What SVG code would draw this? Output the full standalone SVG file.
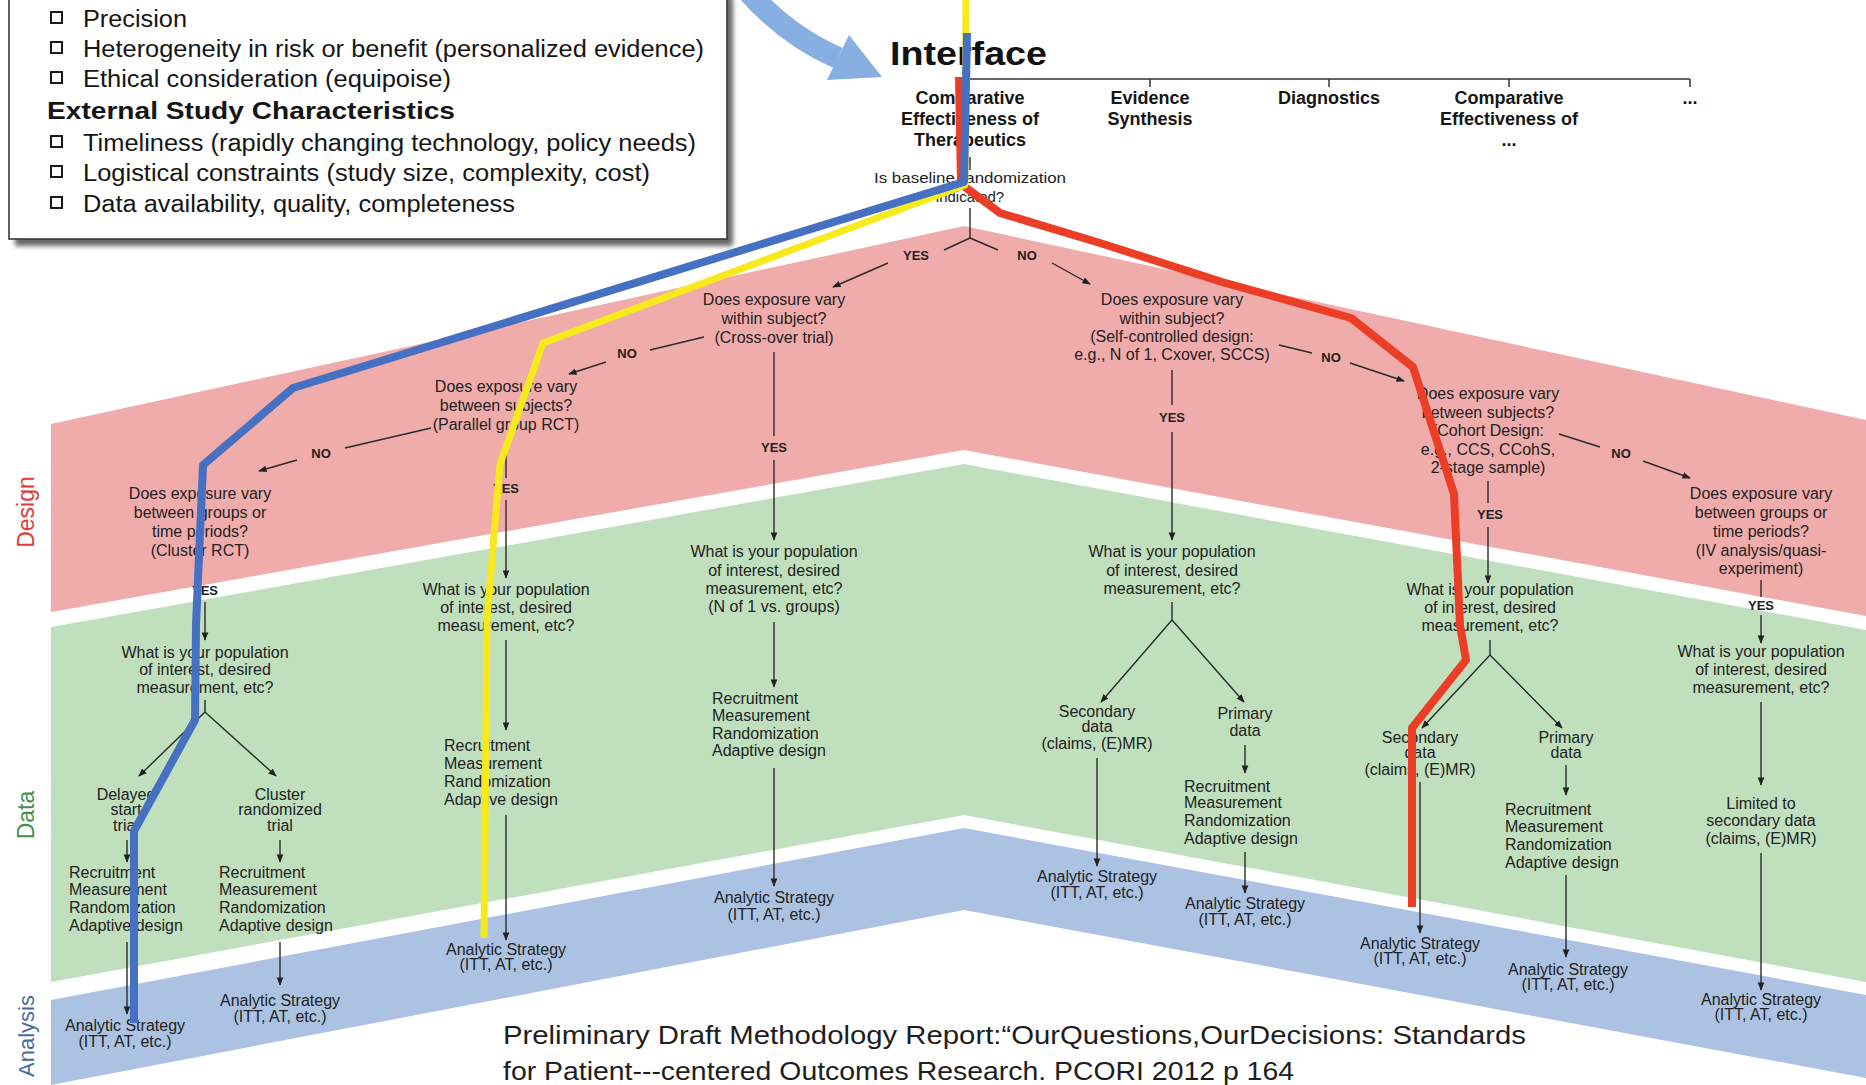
<svg xmlns="http://www.w3.org/2000/svg" width="1866" height="1085" viewBox="0 0 1866 1085">
<defs>
<marker id="ah" viewBox="0 0 10 10" refX="9" refY="5" markerWidth="6" markerHeight="6" orient="auto" markerUnits="strokeWidth"><path d="M0,1 L10,5 L0,9 z" fill="#222"/></marker>
<filter id="sh" x="-5%" y="-5%" width="110%" height="120%"><feGaussianBlur stdDeviation="2.5"/></filter>
</defs>
<style>
.q{font-family:"Liberation Sans",Arial,sans-serif;font-size:16px;fill:#222;text-anchor:middle}
.ql{text-anchor:start}
.yn{font-family:"Liberation Sans",Arial,sans-serif;font-size:13px;font-weight:bold;fill:#222;text-anchor:middle}
.hd{font-family:"Liberation Sans",Arial,sans-serif;font-size:18px;font-weight:bold;fill:#151515;text-anchor:middle}
.bx{font-family:"Liberation Sans",Arial,sans-serif;font-size:23px;fill:#151515}
.cn line,.cn path{stroke:#2a2a2a;stroke-width:1.4;fill:none}
.ar{marker-end:url(#ah)}
.path{fill:none;stroke-linejoin:round;stroke-linecap:butt}
</style>
<rect width="1866" height="1085" fill="#ffffff"/>

<!-- bands -->
<g id="bands">
<polygon points="51,424 964,226 1866,420 1866,616 964,450 51,612" fill="#f0abab"/>
<polygon points="51,627 964,464 1866,630 1866,982 964,815 51,982" fill="#bfdfbd"/>
<polygon points="51,1000 964,828 1866,995 1866,1078 964,910 51,1085" fill="#abc2e2"/>
</g>
<g id="band-labels">
<text transform="translate(34,512) rotate(-90)" style="font-family:'Liberation Sans',Arial,sans-serif;font-size:23px;fill:#df3b3b;text-anchor:middle">Design</text>
<text transform="translate(34,815) rotate(-90)" style="font-family:'Liberation Sans',Arial,sans-serif;font-size:23px;fill:#3f9150;text-anchor:middle">Data</text>
<text transform="translate(34,1036) rotate(-90)" style="font-family:'Liberation Sans',Arial,sans-serif;font-size:22px;fill:#4a6b9e;text-anchor:middle">Analysis</text>
</g>

<!-- blue curved arrow from box -->
<g id="callout-arrow">
<path d="M745,-12 Q784,34 838,58" fill="none" stroke="#88afe1" stroke-width="22"/>
<polygon points="882,77 827,80 849,35" fill="#88afe1"/>
</g>

<!-- top-left box -->
<g id="criteria-box">
<rect x="15" y="-4" width="718" height="250" fill="#666" filter="url(#sh)"/>
<rect x="9" y="-8" width="718" height="247" fill="#ffffff" stroke="#3a3a3a" stroke-width="1.6"/>
<g fill="#fff" stroke="#1a1a1a" stroke-width="2">
<rect x="51" y="12" width="11" height="11"/>
<rect x="51" y="42" width="11" height="11"/>
<rect x="51" y="72" width="11" height="11"/>
<rect x="51" y="136" width="11" height="11"/>
<rect x="51" y="166" width="11" height="11"/>
<rect x="51" y="197" width="11" height="11"/>
</g>
<text class="bx" x="83" y="27" textLength="104" lengthAdjust="spacingAndGlyphs">Precision</text>
<text class="bx" x="83" y="57" textLength="621" lengthAdjust="spacingAndGlyphs">Heterogeneity in risk or benefit (personalized evidence)</text>
<text class="bx" x="83" y="87" textLength="368" lengthAdjust="spacingAndGlyphs">Ethical consideration (equipoise)</text>
<text class="bx" x="47" y="119" font-weight="bold" textLength="408" lengthAdjust="spacingAndGlyphs">External Study Characteristics</text>
<text class="bx" x="83" y="151" textLength="613" lengthAdjust="spacingAndGlyphs">Timeliness (rapidly changing technology, policy needs)</text>
<text class="bx" x="83" y="181" textLength="567" lengthAdjust="spacingAndGlyphs">Logistical constraints (study size, complexity, cost)</text>
<text class="bx" x="83" y="212" textLength="432" lengthAdjust="spacingAndGlyphs">Data availability, quality, completeness</text>
</g>

<!-- interface header -->
<g id="interface">
<text x="890" y="65" style="font-family:'Liberation Sans',Arial,sans-serif;font-size:34px;font-weight:bold;fill:#111" textLength="157" lengthAdjust="spacingAndGlyphs">Interface</text>
<line x1="970" y1="79" x2="1690" y2="79" stroke="#333" stroke-width="1.5"/>
<g stroke="#333" stroke-width="1.5"><line x1="1150" y1="79" x2="1150" y2="87"/><line x1="1329" y1="79" x2="1329" y2="87"/><line x1="1509" y1="79" x2="1509" y2="87"/><line x1="1690" y1="79" x2="1690" y2="87"/></g>
</g>
<g id="n-cet"><text class="hd"><tspan x="970" y="104">Comparative</tspan><tspan x="970" y="125">Effectiveness of</tspan><tspan x="970" y="146">Therapeutics</tspan></text></g>
<g id="n-es"><text class="hd"><tspan x="1150" y="104">Evidence</tspan><tspan x="1150" y="125">Synthesis</tspan></text></g>
<g id="n-diag"><text class="hd" x="1329" y="104">Diagnostics</text></g>
<g id="n-ce2"><text class="hd"><tspan x="1509" y="104">Comparative</tspan><tspan x="1509" y="125">Effectiveness of</tspan><tspan x="1509" y="146">...</tspan></text></g>
<g id="n-more"><text class="hd" x="1690" y="104">...</text></g>
<g id="n-q0"><text class="q" style="font-size:15px"><tspan x="970" y="183" textLength="192" lengthAdjust="spacingAndGlyphs">Is baseline randomization</tspan><tspan x="970" y="202">indicated?</tspan></text></g>

<!-- design nodes -->
<g id="n-c1q"><text class="q"><tspan x="774" y="305">Does exposure vary</tspan><tspan x="774" y="324">within subject?</tspan><tspan x="774" y="343">(Cross-over trial)</tspan></text></g>
<g id="n-c4q"><text class="q"><tspan x="1172" y="305">Does exposure vary</tspan><tspan x="1172" y="324">within subject?</tspan><tspan x="1172" y="342">(Self-controlled design:</tspan><tspan x="1172" y="360">e.g., N of 1, Cxover, SCCS)</tspan></text></g>
<g id="n-c2q"><text class="q"><tspan x="506" y="392">Does exposure vary</tspan><tspan x="506" y="411">between subjects?</tspan><tspan x="506" y="430">(Parallel group RCT)</tspan></text></g>
<g id="n-c0q"><text class="q"><tspan x="200" y="499">Does exposure vary</tspan><tspan x="200" y="518">between groups or</tspan><tspan x="200" y="537">time periods?</tspan><tspan x="200" y="556">(Cluster RCT)</tspan></text></g>
<g id="n-c5q"><text class="q"><tspan x="1488" y="399">Does exposure vary</tspan><tspan x="1488" y="418">between subjects?</tspan><tspan x="1488" y="436">(Cohort Design:</tspan><tspan x="1488" y="455">e.g., CCS, CCohS,</tspan><tspan x="1488" y="473">2-stage sample)</tspan></text></g>
<g id="n-c6q"><text class="q"><tspan x="1761" y="499">Does exposure vary</tspan><tspan x="1761" y="518">between groups or</tspan><tspan x="1761" y="537">time periods?</tspan><tspan x="1761" y="556">(IV analysis/quasi-</tspan><tspan x="1761" y="574">experiment)</tspan></text></g>

<!-- data nodes -->
<g id="n-c0pop"><text class="q"><tspan x="205" y="658">What is your population</tspan><tspan x="205" y="675">of interest, desired</tspan><tspan x="205" y="693">measurement, etc?</tspan></text></g>
<g id="n-c0del"><text class="q"><tspan x="126" y="800">Delayed</tspan><tspan x="126" y="815">start</tspan><tspan x="126" y="831">trial</tspan></text></g>
<g id="n-c0clu"><text class="q"><tspan x="280" y="800">Cluster</tspan><tspan x="280" y="815">randomized</tspan><tspan x="280" y="831">trial</tspan></text></g>
<g id="n-c0rec1"><text class="q ql"><tspan x="69" y="878">Recruitment</tspan><tspan x="69" y="895">Measurement</tspan><tspan x="69" y="913">Randomization</tspan><tspan x="69" y="931">Adaptive design</tspan></text></g>
<g id="n-c0rec2"><text class="q ql"><tspan x="219" y="878">Recruitment</tspan><tspan x="219" y="895">Measurement</tspan><tspan x="219" y="913">Randomization</tspan><tspan x="219" y="931">Adaptive design</tspan></text></g>
<g id="n-c0an1"><text class="q"><tspan x="125" y="1031">Analytic Strategy</tspan><tspan x="125" y="1047">(ITT, AT, etc.)</tspan></text></g>
<g id="n-c0an2"><text class="q"><tspan x="280" y="1006">Analytic Strategy</tspan><tspan x="280" y="1022">(ITT, AT, etc.)</tspan></text></g>

<g id="n-c2pop"><text class="q"><tspan x="506" y="595">What is your population</tspan><tspan x="506" y="613">of interest, desired</tspan><tspan x="506" y="631">measurement, etc?</tspan></text></g>
<g id="n-c2rec"><text class="q ql"><tspan x="444" y="751">Recruitment</tspan><tspan x="444" y="769">Measurement</tspan><tspan x="444" y="787">Randomization</tspan><tspan x="444" y="805">Adaptive design</tspan></text></g>
<g id="n-c2an"><text class="q"><tspan x="506" y="955">Analytic Strategy</tspan><tspan x="506" y="970">(ITT, AT, etc.)</tspan></text></g>

<g id="n-c1pop"><text class="q"><tspan x="774" y="557">What is your population</tspan><tspan x="774" y="576">of interest, desired</tspan><tspan x="774" y="594">measurement, etc?</tspan><tspan x="774" y="612">(N of 1 vs. groups)</tspan></text></g>
<g id="n-c1rec"><text class="q ql"><tspan x="712" y="704">Recruitment</tspan><tspan x="712" y="721">Measurement</tspan><tspan x="712" y="739">Randomization</tspan><tspan x="712" y="756">Adaptive design</tspan></text></g>
<g id="n-c1an"><text class="q"><tspan x="774" y="903">Analytic Strategy</tspan><tspan x="774" y="920">(ITT, AT, etc.)</tspan></text></g>

<g id="n-c4pop"><text class="q"><tspan x="1172" y="557">What is your population</tspan><tspan x="1172" y="576">of interest, desired</tspan><tspan x="1172" y="594">measurement, etc?</tspan></text></g>
<g id="n-c4sec"><text class="q"><tspan x="1097" y="717">Secondary</tspan><tspan x="1097" y="732">data</tspan><tspan x="1097" y="749">(claims, (E)MR)</tspan></text></g>
<g id="n-c4pri"><text class="q"><tspan x="1245" y="719">Primary</tspan><tspan x="1245" y="736">data</tspan></text></g>
<g id="n-c4an1"><text class="q"><tspan x="1097" y="882">Analytic Strategy</tspan><tspan x="1097" y="898">(ITT, AT, etc.)</tspan></text></g>
<g id="n-c4rec"><text class="q ql"><tspan x="1184" y="792">Recruitment</tspan><tspan x="1184" y="808">Measurement</tspan><tspan x="1184" y="826">Randomization</tspan><tspan x="1184" y="844">Adaptive design</tspan></text></g>
<g id="n-c4an2"><text class="q"><tspan x="1245" y="909">Analytic Strategy</tspan><tspan x="1245" y="925">(ITT, AT, etc.)</tspan></text></g>

<g id="n-c5pop"><text class="q"><tspan x="1490" y="595">What is your population</tspan><tspan x="1490" y="613">of interest, desired</tspan><tspan x="1490" y="631">measurement, etc?</tspan></text></g>
<g id="n-c5sec"><text class="q"><tspan x="1420" y="743">Secondary</tspan><tspan x="1420" y="758">data</tspan><tspan x="1420" y="775">(claims, (E)MR)</tspan></text></g>
<g id="n-c5pri"><text class="q"><tspan x="1566" y="743">Primary</tspan><tspan x="1566" y="758">data</tspan></text></g>
<g id="n-c5an1"><text class="q"><tspan x="1420" y="949">Analytic Strategy</tspan><tspan x="1420" y="964">(ITT, AT, etc.)</tspan></text></g>
<g id="n-c5rec"><text class="q ql"><tspan x="1505" y="815">Recruitment</tspan><tspan x="1505" y="832">Measurement</tspan><tspan x="1505" y="850">Randomization</tspan><tspan x="1505" y="868">Adaptive design</tspan></text></g>
<g id="n-c5an2"><text class="q"><tspan x="1568" y="975">Analytic Strategy</tspan><tspan x="1568" y="990">(ITT, AT, etc.)</tspan></text></g>

<g id="n-c6pop"><text class="q"><tspan x="1761" y="657">What is your population</tspan><tspan x="1761" y="675">of interest, desired</tspan><tspan x="1761" y="693">measurement, etc?</tspan></text></g>
<g id="n-c6lim"><text class="q"><tspan x="1761" y="809">Limited to</tspan><tspan x="1761" y="826">secondary data</tspan><tspan x="1761" y="844">(claims, (E)MR)</tspan></text></g>
<g id="n-c6an"><text class="q"><tspan x="1761" y="1005">Analytic Strategy</tspan><tspan x="1761" y="1020">(ITT, AT, etc.)</tspan></text></g>

<!-- connectors -->
<g id="connectors" class="cn">
<line x1="970" y1="157" x2="970" y2="170"/>
<line x1="970" y1="208" x2="970" y2="238"/>
<line x1="970" y1="238" x2="944" y2="250"/>
<line class="ar" x1="888" y1="263" x2="833" y2="287"/>
<line x1="970" y1="238" x2="998" y2="250"/>
<line class="ar" x1="1052" y1="263" x2="1090" y2="284"/>

<line x1="704" y1="337" x2="650" y2="350"/>
<line class="ar" x1="606" y1="362" x2="569" y2="374"/>
<line x1="774" y1="352" x2="774" y2="436"/>
<line class="ar" x1="774" y1="460" x2="774" y2="540"/>

<line x1="431" y1="428" x2="345" y2="448"/>
<line class="ar" x1="297" y1="460" x2="259" y2="471"/>
<line x1="506" y1="438" x2="506" y2="478"/>
<line class="ar" x1="506" y1="500" x2="506" y2="578"/>
<line class="ar" x1="506" y1="640" x2="506" y2="730"/>
<line class="ar" x1="506" y1="815" x2="506" y2="940"/>

<line class="ar" x1="774" y1="622" x2="774" y2="687"/>
<line class="ar" x1="774" y1="768" x2="774" y2="886"/>

<line class="ar" x1="205" y1="602" x2="205" y2="640"/>
<line x1="205" y1="700" x2="205" y2="712"/>
<line class="ar" x1="205" y1="712" x2="139" y2="776"/>
<line class="ar" x1="205" y1="712" x2="276" y2="776"/>
<line class="ar" x1="127" y1="840" x2="127" y2="862"/>
<line class="ar" x1="280" y1="840" x2="280" y2="862"/>
<line class="ar" x1="127" y1="942" x2="127" y2="1014"/>
<line class="ar" x1="280" y1="942" x2="280" y2="985"/>

<line x1="1172" y1="370" x2="1172" y2="405"/>
<line class="ar" x1="1172" y1="432" x2="1172" y2="540"/>
<line x1="1172" y1="602" x2="1172" y2="620"/>
<line class="ar" x1="1172" y1="620" x2="1101" y2="702"/>
<line class="ar" x1="1172" y1="620" x2="1244" y2="702"/>
<line class="ar" x1="1097" y1="758" x2="1097" y2="866"/>
<line class="ar" x1="1245" y1="745" x2="1245" y2="773"/>
<line class="ar" x1="1245" y1="852" x2="1245" y2="893"/>
<line x1="1279" y1="345" x2="1312" y2="353"/>
<line class="ar" x1="1350" y1="363" x2="1404" y2="381"/>

<line x1="1488" y1="481" x2="1488" y2="503"/>
<line class="ar" x1="1488" y1="527" x2="1488" y2="583"/>
<line x1="1490" y1="640" x2="1490" y2="655"/>
<line class="ar" x1="1490" y1="655" x2="1422" y2="728"/>
<line class="ar" x1="1490" y1="655" x2="1562" y2="728"/>
<line class="ar" x1="1420" y1="782" x2="1420" y2="933"/>
<line class="ar" x1="1566" y1="765" x2="1566" y2="795"/>
<line class="ar" x1="1566" y1="875" x2="1566" y2="957"/>
<line x1="1559" y1="434" x2="1600" y2="447"/>
<line class="ar" x1="1643" y1="461" x2="1690" y2="478"/>

<line x1="1761" y1="580" x2="1761" y2="597"/>
<line class="ar" x1="1761" y1="615" x2="1761" y2="643"/>
<line class="ar" x1="1761" y1="702" x2="1761" y2="785"/>
<line class="ar" x1="1761" y1="853" x2="1761" y2="990"/>
</g>
<g id="connector-labels">
<text class="yn" x="916" y="260">YES</text>
<text class="yn" x="1027" y="260">NO</text>
<text class="yn" x="627" y="358">NO</text>
<text class="yn" x="774" y="452">YES</text>
<text class="yn" x="321" y="458">NO</text>
<text class="yn" x="506" y="493">YES</text>
<text class="yn" x="205" y="595">YES</text>
<text class="yn" x="1172" y="422">YES</text>
<text class="yn" x="1331" y="362">NO</text>
<text class="yn" x="1490" y="519">YES</text>
<text class="yn" x="1621" y="458">NO</text>
<text class="yn" x="1761" y="610">YES</text>
</g>

<!-- highlighted paths -->
<g id="paths">
<polyline class="path" points="959,77 961,184 1000,213 1100,243 1222,282 1351,318 1413,367 1454,494 1460,625 1466,660 1412,728 1412,907" stroke="#ec3e26" stroke-width="8"/>
<polyline class="path" points="966,0 965,185 543,343 500,464 487,619 484,938" stroke="#f7ea1c" stroke-width="7"/>
<polyline class="path" points="967,33 964,182 293,388 203,465 196,625 195,720 134,831 134,1023" stroke="#4671c3" stroke-width="8"/>
</g>

<!-- footnote -->
<g id="footnote">
<text x="503" y="1044" style="font-family:'Liberation Sans',Arial,sans-serif;font-size:26px;fill:#1e1e1e" textLength="1023" lengthAdjust="spacingAndGlyphs">Preliminary Draft Methodology Report:“OurQuestions,OurDecisions: Standards</text>
<text x="503" y="1080" style="font-family:'Liberation Sans',Arial,sans-serif;font-size:26px;fill:#1e1e1e" textLength="791" lengthAdjust="spacingAndGlyphs">for Patient---centered Outcomes Research. PCORI 2012 p 164</text>
</g>
</svg>
